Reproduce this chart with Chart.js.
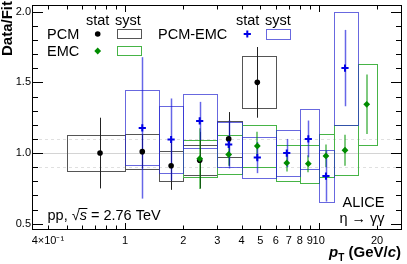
<!DOCTYPE html>
<html>
<head>
<meta charset="utf-8">
<script src="https://cdn.jsdelivr.net/npm/chart.js@4/dist/chart.umd.min.js"></script>
<style>
html, body { margin: 0; padding: 0; background: #fff; }
canvas { display: block; }
</style>
</head>
<body>
<canvas id="ratioChart" width="407" height="264"></canvas>
<script>
// PCM
var pcmX = [0.743, 1.228, 1.73, 2.43, 3.43, 4.82]
var pcmY = [1.00, 1.01, 0.91, 0.95, 1.10, 1.50]
var pcmStat = [0.25, 0.12, 0.17, 0.20, 0.19, 0.25]
var pcmSyst = [0.125, 0.124, 0.108, 0.105, 0.128, 0.183]
var pcmLo = [0.5, 1.0, 1.5, 2.0, 3.0, 4.0]
var pcmHi = [1.0, 1.5, 2.0, 3.0, 4.0, 6.0]

// EMC
var emcX = [2.43, 3.43, 4.82, 6.84, 8.84, 10.9, 13.67, 17.7]
var emcY = [0.96, 0.99, 1.05, 0.93, 0.925, 0.98, 1.02, 1.345]
var emcStat = [0.215, 0.08, 0.10, 0.06, 0.06, 0.08, 0.11, 0.21]
var emcSyst = [0.132, 0.14, 0.15, 0.125, 0.135, 0.152, 0.178, 0.287]
var emcLo = [2, 3, 4, 6, 8, 10, 12, 16]
var emcHi = [3, 4, 6, 8, 10, 12, 16, 20]

// PCM-EMC
var peX = [1.228, 1.73, 2.43, 3.43, 4.82, 6.84, 8.84, 10.9, 13.67]
var peY = [1.178, 1.096, 1.227, 1.061, 0.968, 1.00, 1.10, 0.837, 1.601]
var peStat = [0.50, 0.29, 0.135, 0.17, 0.11, 0.10, 0.13, 0.18, 0.27]
var peSyst = [0.265, 0.24, 0.19, 0.16, 0.143, 0.165, 0.21, 0.185, 0.40]
var peLo = [1, 1.5, 2, 3, 4, 6, 8, 10, 12]
var peHi = [1.5, 2, 3, 4, 6, 8, 10, 12, 16]

// axes
var xTicks = [0.4, 0.5, 0.6, 0.7, 0.8, 0.9, 1, 2, 3, 4, 5, 6, 7, 8, 9, 10, 20]
var xTickLabels = ['4×10⁻¹', '', '', '', '', '', '1', '2', '3', '4', '5', '6', '7', '8', '9', '10', '20']
var yTicks = [0.5, 0.6, 0.7, 0.8, 0.9, 1.0, 1.1, 1.2, 1.3, 1.4, 1.5, 1.6, 1.7, 1.8, 1.9, 2.0]
var yTickLabels = ['0.5', '', '', '', '', '1.0', '', '', '', '', '1.5', '', '', '', '', '2.0']

const FONT = '"Liberation Sans", Arial, Helvetica, sans-serif'

const PCM_BOX = '#555555', PCM_STAT = '#222222', PCM_MARK = '#000000'
const EMC_BOX = 'rgb(70,180,70)', EMC_STAT = 'rgba(0,150,0,0.5)', EMC_MARK = 'rgb(0,140,0)'
const PE_BOX = 'rgba(40,40,210,0.7)', PE_STAT = 'rgba(20,20,220,0.65)', PE_MARK = 'rgb(0,0,230)'

function pts(xs, ys) {
    return xs.map((x, i) => ({ x: x, y: ys[i] }))
}

function snap(v) {
    return Math.round(v) + 0.5
}

function drawSyst(ctx, sx, sy, ys, syst, lo, hi, color) {
    ctx.strokeStyle = color
    ctx.lineWidth = 1
    for (let i = 0; i < ys.length; i++) {
        const l = snap(sx.getPixelForValue(lo[i]))
        const r = snap(sx.getPixelForValue(hi[i]))
        const t = snap(sy.getPixelForValue(ys[i] + syst[i]))
        const b = snap(sy.getPixelForValue(ys[i] - syst[i]))
        ctx.strokeRect(l, t, r - l, b - t)
    }
}

function drawStat(ctx, sx, sy, xs, ys, stat, color, width) {
    ctx.strokeStyle = color
    ctx.lineWidth = width
    for (let i = 0; i < ys.length; i++) {
        const px = Math.round(sx.getPixelForValue(xs[i])) + (width % 2 ? 0.5 : 0)
        ctx.beginPath()
        ctx.moveTo(px, sy.getPixelForValue(ys[i] + stat[i]))
        ctx.lineTo(px, sy.getPixelForValue(ys[i] - stat[i]))
        ctx.stroke()
    }
}

function textRuns(ctx, parts, x, y, align) {
    let w = 0
    for (const p of parts) {
        ctx.font = p.f
        p.w = ctx.measureText(p.t).width
        w += p.w
    }
    let cx = align === 'right' ? x - w : x
    for (const p of parts) {
        ctx.font = p.f
        ctx.fillText(p.t, cx, y + (p.dy || 0))
        if (p.over) {
            ctx.save()
            ctx.lineWidth = 1
            ctx.beginPath()
            ctx.moveTo(cx - 1, snap(y - p.over))
            ctx.lineTo(cx + p.w + 0.5, snap(y - p.over))
            ctx.stroke()
            ctx.restore()
        }
        cx += p.w
    }
}

function marker(ctx, style, color, x, y) {
    ctx.save()
    ctx.fillStyle = color
    ctx.strokeStyle = color
    ctx.lineWidth = style.borderWidth
    Chart.helpers.drawPoint(ctx, style, x, y)
    ctx.restore()
}

const pcmStyle = { pointStyle: 'circle', radius: 2.8, borderWidth: 0, rotation: 0 }
const emcStyle = { pointStyle: 'rectRot', radius: 3.4, borderWidth: 0, rotation: 0 }
const peStyle = { pointStyle: 'cross', radius: 3.6, borderWidth: 2, rotation: 0 }

const ratioPlugin = {
    id: 'ratioPlugin',
    beforeDatasetsDraw(chart) {
        const ctx = chart.ctx
        const a = chart.chartArea
        const sx = chart.scales.x, sy = chart.scales.y
        ctx.save()
        ctx.beginPath()
        ctx.rect(a.left, a.top, a.right - a.left, a.bottom - a.top)
        ctx.clip()

        // reference lines at 1 and +-10%
        ctx.lineWidth = 1
        ctx.strokeStyle = '#d4d4d4'
        let py = snap(sy.getPixelForValue(1.0))
        ctx.beginPath(); ctx.moveTo(a.left, py); ctx.lineTo(a.right, py); ctx.stroke()
        ctx.setLineDash([3, 3])
        ctx.strokeStyle = '#e0e0e0'
        for (const v of [0.9, 1.1]) {
            py = snap(sy.getPixelForValue(v))
            ctx.beginPath(); ctx.moveTo(a.left, py); ctx.lineTo(a.right, py); ctx.stroke()
        }
        ctx.setLineDash([])

        drawSyst(ctx, sx, sy, pcmY, pcmSyst, pcmLo, pcmHi, PCM_BOX)
        drawSyst(ctx, sx, sy, emcY, emcSyst, emcLo, emcHi, EMC_BOX)
        drawSyst(ctx, sx, sy, peY, peSyst, peLo, peHi, PE_BOX)

        drawStat(ctx, sx, sy, pcmX, pcmY, pcmStat, PCM_STAT, 1)
        drawStat(ctx, sx, sy, emcX, emcY, emcStat, EMC_STAT, 2)
        drawStat(ctx, sx, sy, peX, peY, peStat, PE_STAT, 1.5)
        ctx.restore()
    },
    afterDraw(chart) {
        const ctx = chart.ctx
        const a = chart.chartArea
        const sx = chart.scales.x, sy = chart.scales.y
        ctx.save()

        // frame
        ctx.strokeStyle = '#000'
        ctx.lineWidth = 1
        ctx.strokeRect(snap(a.left) - 1, snap(a.top) - 1, Math.round(a.right - a.left) + 1, Math.round(a.bottom - a.top) + 1)

        // ticks inside the frame
        ctx.beginPath()
        yTicks.forEach((v, i) => {
            const py = snap(sy.getPixelForValue(v))
            const len = yTickLabels[i] ? 10 : 5
            ctx.moveTo(a.left, py); ctx.lineTo(a.left + len, py)
            ctx.moveTo(a.right, py); ctx.lineTo(a.right - len, py)
        })
        xTicks.forEach(v => {
            const px = snap(sx.getPixelForValue(v))
            const len = (v === 1 || v === 10) ? 6 : 3.5
            ctx.moveTo(px, a.bottom); ctx.lineTo(px, a.bottom - len)
            ctx.moveTo(px, a.top); ctx.lineTo(px, a.top + len)
        })
        ctx.stroke()

        // axis titles
        ctx.fillStyle = '#000'
        ctx.textBaseline = 'alphabetic'
        ctx.textAlign = 'left'
        ctx.save()
        ctx.translate(11.5, 56)
        ctx.rotate(-Math.PI / 2)
        ctx.font = 'bold 15px ' + FONT
        ctx.fillText('Data/Fit', 0, 0)
        ctx.restore()

        textRuns(ctx, [
            { t: 'p', f: 'bold italic 15px ' + FONT },
            { t: 'T', f: 'bold 10px ' + FONT, dy: 4 },
            { t: ' (GeV/', f: 'bold 15px ' + FONT },
            { t: 'c', f: 'bold italic 15px ' + FONT },
            { t: ')', f: 'bold 15px ' + FONT }
        ], 401, 257, 'right')

        // legend
        const lf = '14.5px ' + FONT
        ctx.font = lf
        ctx.fillText('stat', 86, 24.5)
        ctx.fillText('syst', 115, 24.5)
        ctx.fillText('PCM', 47, 39.3)
        ctx.fillText('EMC', 47, 56.3)
        ctx.fillText('PCM-EMC', 158, 39)
        ctx.fillText('stat', 236, 24.5)
        ctx.fillText('syst', 265, 24.5)
        marker(ctx, pcmStyle, PCM_MARK, 97.7, 34)
        marker(ctx, emcStyle, EMC_MARK, 97.7, 51)
        marker(ctx, peStyle, PE_MARK, 247.3, 34)
        ctx.lineWidth = 1
        ctx.strokeStyle = PCM_BOX
        ctx.strokeRect(117.5, 29.5, 24, 9)
        ctx.strokeStyle = EMC_BOX
        ctx.strokeRect(117.5, 46.5, 24, 9)
        ctx.strokeStyle = PE_BOX
        ctx.strokeRect(266.5, 29.5, 24, 10)

        // labels
        ctx.fillStyle = '#000'
        ctx.strokeStyle = '#000'
        textRuns(ctx, [
            { t: 'pp, ', f: lf },
            { t: '√', f: lf },
            { t: 's', f: 'italic ' + lf, over: 12 },
            { t: ' = 2.76 TeV', f: lf }
        ], 47.5, 219.5, 'left')
        ctx.font = lf
        ctx.textAlign = 'right'
        ctx.fillText('ALICE', 384.5, 207)
        ctx.fillText('η → γγ', 384.5, 223)

        ctx.restore()
    }
}

function initChart() {
    const ctx = document.getElementById('ratioChart').getContext('2d')
    new Chart(ctx, {
        type: 'scatter',
        data: {
            datasets: [
                {
                    label: 'EMC',
                    data: pts(emcX, emcY),
                    order: 0,
                    pointStyle: 'rectRot',
                    pointRadius: 3.4,
                    pointBorderWidth: 0,
                    backgroundColor: EMC_MARK,
                    borderColor: EMC_MARK
                },
                {
                    label: 'PCM-EMC',
                    data: pts(peX, peY),
                    order: 1,
                    pointStyle: 'cross',
                    pointRadius: 3.6,
                    pointBorderWidth: 2,
                    backgroundColor: PE_MARK,
                    borderColor: PE_MARK
                },
                {
                    label: 'PCM',
                    data: pts(pcmX, pcmY),
                    order: 2,
                    pointStyle: 'circle',
                    pointRadius: 2.8,
                    pointBorderWidth: 0,
                    backgroundColor: PCM_MARK,
                    borderColor: PCM_MARK
                }
            ]
        },
        options: {
            responsive: false,
            animation: false,
            events: [],
            layout: { padding: { top: 4, right: 6, left: 0, bottom: 0 } },
            plugins: {
                legend: { display: false },
                tooltip: { enabled: false }
            },
            scales: {
                x: {
                    type: 'logarithmic',
                    bounds: 'data',
                    min: 0.335,
                    max: 26.6,
                    grid: { display: false, drawTicks: false },
                    border: { display: false },
                    afterBuildTicks: s => { s.ticks = xTicks.map(v => ({ value: v })) },
                    afterFit: s => { s.height = 35; s.paddingLeft = 0; s.paddingRight = 0 },
                    ticks: {
                        autoSkip: false,
                        maxRotation: 0,
                        minRotation: 0,
                        padding: 5,
                        color: '#000',
                        font: { family: FONT, size: 11 },
                        callback: (v, i) => xTickLabels[i]
                    }
                },
                y: {
                    bounds: 'data',
                    min: 0.463,
                    max: 2.04,
                    grid: { display: false, drawTicks: false },
                    border: { display: false },
                    afterBuildTicks: s => { s.ticks = yTicks.map(v => ({ value: v })) },
                    afterFit: s => { s.width = 33; s.paddingTop = 0; s.paddingBottom = 0 },
                    ticks: {
                        autoSkip: false,
                        padding: 2,
                        color: '#000',
                        font: { family: FONT, size: 11 },
                        callback: (v, i) => yTickLabels[i]
                    }
                }
            }
        },
        plugins: [ratioPlugin]
    })
}

document.addEventListener('DOMContentLoaded', initChart)
</script>
</body>
</html>
